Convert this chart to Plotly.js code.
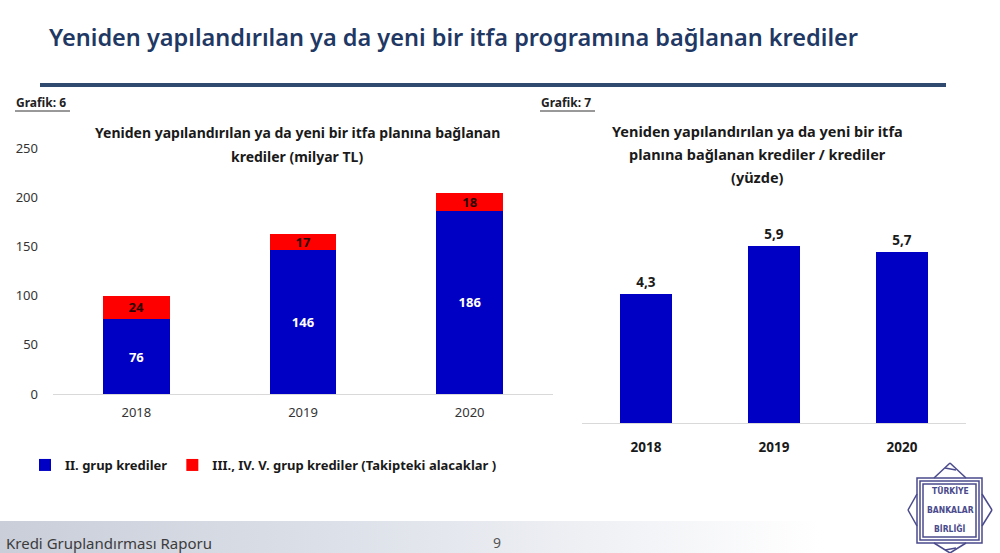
<!DOCTYPE html>
<html>
<head>
<meta charset="utf-8">
<script src="https://cdn.plot.ly/plotly-3.0.1.min.js"></script>
<style>
  html, body { margin: 0; padding: 0; background: #ffffff; }
  #wrap { position: relative; width: 1000px; height: 553px; overflow: hidden; }
  #footer { position: absolute; left: 0; top: 521px; width: 1000px; height: 32px;
    background: linear-gradient(90deg, #c9ced9 0%, #dde1e9 35%, #f3f4f7 65%, #ffffff 82%); }
  #chart { position: absolute; left: 0; top: 0; width: 1000px; height: 553px; }
</style>
</head>
<body>
<div id="wrap">
  <div id="footer"></div>
  <div id="chart"></div>
</div>
<script>
// ---- data ----
var years = ['2018', '2019', '2020'];
var grup2 = [76, 146, 186];          // II. grup krediler (milyar TL)
var grup345 = [24, 17, 18];          // III., IV., V. grup krediler (milyar TL)
var oran = [4.3, 5.9, 5.7];          // yeniden yapılandırılan / krediler (yüzde)
var leftTicks = [0, 50, 100, 150, 200, 250];

var seriesNames = ['II. grup krediler', 'III., IV. V. grup krediler (Takipteki alacaklar )'];
var mainTitle = 'Yeniden yapılandırılan ya da yeni bir itfa programına bağlanan krediler';
var leftTitleLines = ['Yeniden yapılandırılan ya da yeni bir itfa planına bağlanan', 'krediler (milyar TL)'];
var rightTitleLines = ['Yeniden yapılandırılan ya da yeni bir itfa', 'planına bağlanan krediler / krediler', '(yüzde)'];
var footerText = 'Kredi Gruplandırması Raporu';
var pageNo = '9';
var logoWords = ['TÜRKİYE', 'BANKALAR', 'BİRLİĞİ'];

// ---- helpers (pixel -> paper) ----
var W = 1000, H = 553;
function px(x) { return x / W; }
function py(y) { return 1 - y / H; }

var FONT = 'Noto Sans, Open Sans, sans-serif';
var BLUE = '#0000c4';
var RED = '#ff0000';
var NAVY = '#1f3864';
var LOGO = '#4a4a8c';

var traces = [
  {
    type: 'bar', x: years, y: grup2, name: seriesNames[0],
    xaxis: 'x', yaxis: 'y',
    marker: { color: BLUE },
    texttemplate: '%{y}', textposition: 'inside', insidetextanchor: 'middle',
    textangle: 0, constraintext: 'none',
    textfont: { family: FONT, size: 13, color: '#ffffff', weight: 700 },
    hoverinfo: 'skip'
  },
  {
    type: 'bar', x: years, y: grup345, name: seriesNames[1],
    xaxis: 'x', yaxis: 'y',
    marker: { color: RED },
    texttemplate: '%{y}', textposition: 'inside', insidetextanchor: 'middle',
    textangle: 0, constraintext: 'none',
    textfont: { family: FONT, size: 13, color: '#2a0505', weight: 700 },
    hoverinfo: 'skip'
  },
  {
    type: 'bar', x: years, y: oran, name: 'oran', showlegend: false,
    xaxis: 'x2', yaxis: 'y2',
    marker: { color: BLUE },
    texttemplate: '%{y:.1f}', textposition: 'outside', cliponaxis: false,
    textfont: { family: FONT, size: 13.5, color: '#1a1a1a', weight: 700 },
    hoverinfo: 'skip'
  }
];

var shapes = [
  // rule under main title
  { type: 'line', xref: 'paper', yref: 'paper', x0: px(40), x1: px(946), y0: py(85), y1: py(85),
    line: { color: '#2f4a6e', width: 4 } },
  // underline of Grafik labels
  { type: 'line', xref: 'paper', yref: 'paper', x0: px(15), x1: px(70), y0: py(111), y1: py(111),
    line: { color: '#333333', width: 1 } },
  { type: 'line', xref: 'paper', yref: 'paper', x0: px(540), x1: px(595), y0: py(111), y1: py(111),
    line: { color: '#333333', width: 1 } }
];

// logo (approximation)
var lb = { x0: 917, x1: 982, y0: 478, y1: 543 };
[0, 3, 6].forEach(function (d) {
  shapes.push({ type: 'rect', xref: 'paper', yref: 'paper',
    x0: px(lb.x0 + d), x1: px(lb.x1 - d), y0: py(lb.y1 - d), y1: py(lb.y0 + d),
    line: { color: LOGO, width: 1.5 } });
});
var cx = 950, cy = 510;
var logoLines = [
  [cx, 463, 934, 478], [cx, 463, 966, 478],
  [cx, 553, 934, 543], [cx, 553, 966, 543],
  [908, cy, 917, 494], [908, cy, 917, 526],
  [992, cy, 982, 494], [992, cy, 982, 526],
  [945, 468, 956, 470], [945, 550, 956, 548]
];
logoLines.forEach(function (l) {
  shapes.push({ type: 'line', xref: 'paper', yref: 'paper',
    x0: px(l[0]), y0: py(l[1]), x1: px(l[2]), y1: py(l[3]),
    line: { color: LOGO, width: 1.5 } });
});

var annotations = [
  { text: mainTitle, xref: 'paper', yref: 'paper', x: px(47), y: py(37), xanchor: 'left', yanchor: 'middle',
    showarrow: false, font: { family: FONT, size: 23.5, color: NAVY, weight: 600 } },
  { text: '<b>Grafik: 6</b>', xref: 'paper', yref: 'paper', x: px(14), y: py(102), xanchor: 'left', yanchor: 'middle',
    showarrow: false, font: { family: FONT, size: 12, color: '#222222' } },
  { text: '<b>Grafik: 7</b>', xref: 'paper', yref: 'paper', x: px(539), y: py(102), xanchor: 'left', yanchor: 'middle',
    showarrow: false, font: { family: FONT, size: 12, color: '#222222' } },
  { text: footerText, xref: 'paper', yref: 'paper', x: px(4), y: py(543), xanchor: 'left', yanchor: 'middle',
    showarrow: false, font: { family: FONT, size: 15, color: '#3c3c3c' } },
  { text: pageNo, xref: 'paper', yref: 'paper', x: px(497), y: py(542), xanchor: 'center', yanchor: 'middle',
    showarrow: false, font: { family: FONT, size: 14, color: '#555555' } }
];
leftTitleLines.forEach(function (t, i) {
  annotations.push({ text: '<b>' + t + '</b>', xref: 'paper', yref: 'paper', x: px(297), y: py(133 + 23 * i),
    xanchor: 'center', yanchor: 'middle', showarrow: false,
    font: { family: FONT, size: 14, color: '#1a1a1a' } });
});
rightTitleLines.forEach(function (t, i) {
  annotations.push({ text: '<b>' + t + '</b>', xref: 'paper', yref: 'paper', x: px(757), y: py(131 + 23 * i),
    xanchor: 'center', yanchor: 'middle', showarrow: false,
    font: { family: FONT, size: 14.5, color: '#1a1a1a' } });
});
logoWords.forEach(function (t, i) {
  annotations.push({ text: '<b>' + t + '</b>', xref: 'paper', yref: 'paper', x: px(950), y: py(491 + 18.5 * i),
    xanchor: 'center', yanchor: 'middle', showarrow: false,
    font: { family: 'DejaVu Sans Condensed, DejaVu Sans', size: 8.5, color: LOGO } });
});

var layout = {
  width: W, height: H,
  margin: { l: 0, r: 0, t: 0, b: 0 },
  paper_bgcolor: 'rgba(0,0,0,0)',
  plot_bgcolor: 'rgba(0,0,0,0)',
  separators: ',.',
  barmode: 'stack',
  showlegend: true,
  font: { family: FONT },
  xaxis: {
    domain: [px(53), px(553)], anchor: 'y', type: 'category',
    showline: true, linecolor: '#d9d9d9', linewidth: 1,
    ticks: '', showgrid: false, zeroline: false,
    tickfont: { family: FONT, size: 13, color: '#333333' },
    ticklabelstandoff: 6, fixedrange: true
  },
  yaxis: {
    domain: [py(394), py(148)], anchor: 'x',
    range: [0, 250], tickvals: leftTicks, ticktext: leftTicks.map(String),
    showline: false, showgrid: false, zeroline: false, ticks: '',
    tickfont: { family: FONT, size: 13, color: '#333333' },
    ticklabelstandoff: 14, fixedrange: true
  },
  xaxis2: {
    domain: [px(582), px(966)], anchor: 'y2', type: 'category',
    showline: true, linecolor: '#d9d9d9', linewidth: 1,
    ticks: '', showgrid: false, zeroline: false,
    tickfont: { family: FONT, size: 13.5, color: '#1a1a1a', weight: 700 },
    ticklabelstandoff: 12, fixedrange: true
  },
  yaxis2: {
    domain: [py(423), py(213)], anchor: 'x2',
    range: [0, 7], visible: false, fixedrange: true
  },
  bargap: 0.6,
  legend: {
    orientation: 'h', x: px(25), y: py(465), xanchor: 'left', yanchor: 'middle',
    font: { family: FONT, size: 13, color: '#1a1a1a', weight: 700 },
    bgcolor: 'rgba(0,0,0,0)', traceorder: 'normal'
  },
  shapes: shapes,
  annotations: annotations
};

Plotly.newPlot('chart', traces, layout, { displayModeBar: false, staticPlot: true });
</script>
</body>
</html>
